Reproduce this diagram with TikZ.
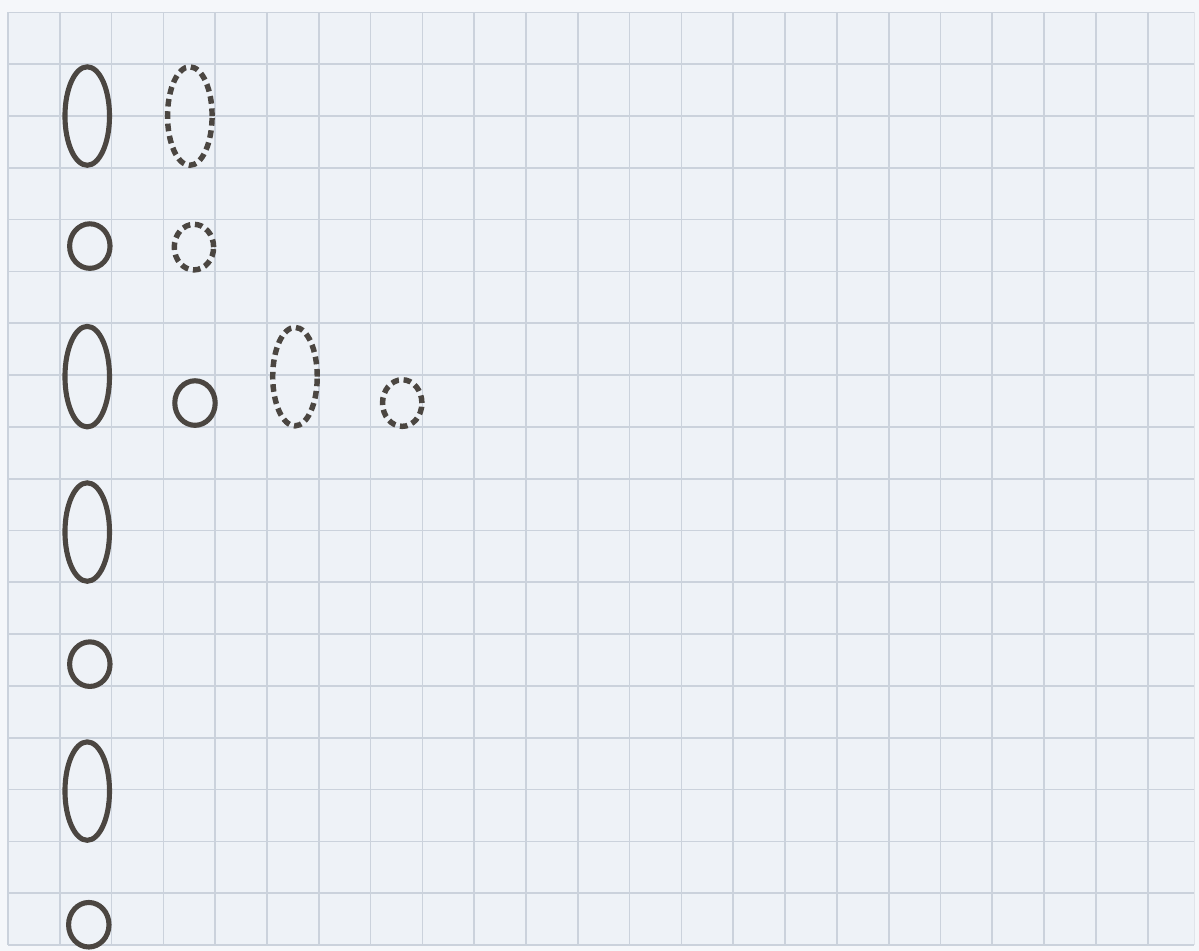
\documentclass[tikz,border=0pt]{standalone}
\usepackage{tikz}
\usetikzlibrary{calc}

\definecolor{paper}{HTML}{EEF2F7}
\definecolor{gridline}{HTML}{CBD2DC}
\definecolor{ink}{HTML}{4B4641}

\begin{document}
\begin{tikzpicture}[
    solidring/.style={draw=ink, line width=2.8pt},
    dashring/.style={draw=ink, line width=3pt, dash pattern=on 4.2pt off 2.6pt},
]

% === Paper and squared grid ===
\fill[paper!60!white] (-0.154,-0.116) rectangle (22.99,18.24);
\fill[paper] (0,0) rectangle (22.9,18);
\useasboundingbox (-0.154,-0.116) rectangle (22.99,18.24);
\draw[gridline, line width=0.9pt, step=1cm] (0,0) grid (22.9,18);
\draw[gridline!60!white, line width=0.7pt] (22.9,0) -- (22.9,18);

% === Row 1: tall and dashed tall ===
\draw[solidring] (1.53,16.0) ellipse (0.43cm and 0.95cm);
\draw[dashring] (3.51,16.0) ellipse (0.43cm and 0.95cm);

% === Row 2: short and dashed short ===
\draw[solidring] (1.58,13.49) ellipse (0.39cm and 0.43cm);
\draw[dashring] (3.59,13.47) ellipse (0.38cm and 0.44cm);

% === Row 3: tall, short, dashed tall, dashed short ===
\draw[solidring] (1.53,10.97) ellipse (0.43cm and 0.97cm);
\draw[solidring] (3.61,10.46) ellipse (0.39cm and 0.43cm);
\draw[dashring] (5.54,10.97) ellipse (0.43cm and 0.95cm);
\draw[dashring] (7.61,10.46) ellipse (0.38cm and 0.45cm);

% === Left column continues ===
\draw[solidring] (1.53,7.97) ellipse (0.43cm and 0.95cm);
\draw[solidring] (1.58,5.42) ellipse (0.39cm and 0.43cm);
\draw[solidring] (1.53,2.97) ellipse (0.43cm and 0.95cm);
\draw[solidring] (1.56,0.39) ellipse (0.39cm and 0.43cm);

\end{tikzpicture}
\end{document}
